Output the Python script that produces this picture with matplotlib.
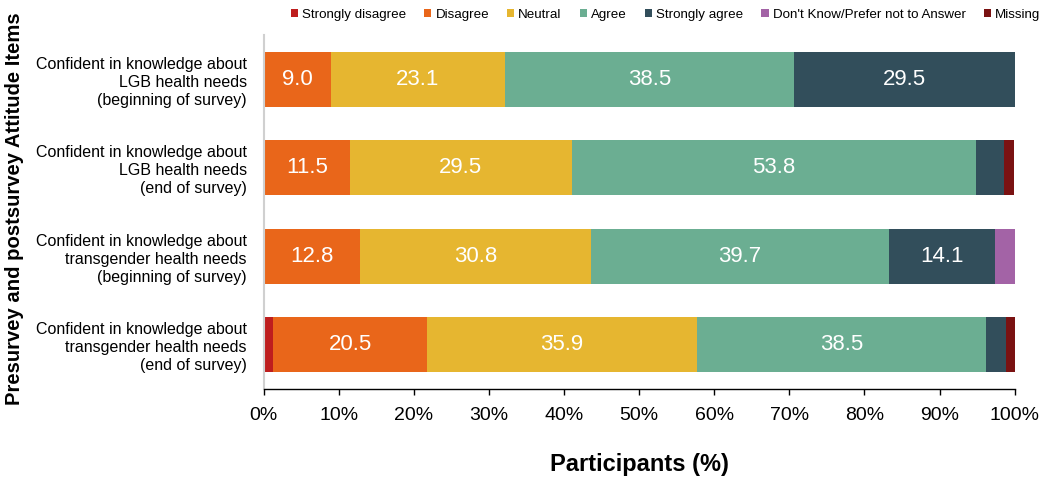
import numpy as np
import matplotlib.pyplot as plt

plt.rcParams['font.family'] = ['Liberation Sans', 'DejaVu Sans']

# 설문 항목
items = ['Confident in knowledge about\nLGB health needs\n(beginning of survey)',
         'Confident in knowledge about\nLGB health needs\n(end of survey)',
         'Confident in knowledge about\ntransgender health needs\n(beginning of survey)',
         'Confident in knowledge about\ntransgender health needs\n(end of survey)']

categories = ['Strongly disagree', 'Disagree', 'Neutral', 'Agree', 'Strongly agree',
              "Don't Know/Prefer not to Answer", 'Missing']

strongly_disagree = [0.0, 0.0, 0.0, 1.3]
disagree = [9.0, 11.5, 12.8, 20.5]
neutral = [23.1, 29.5, 30.8, 35.9]
agree = [38.5, 53.8, 39.7, 38.5]
strongly_agree = [29.5, 3.8, 14.1, 2.6]
dont_know = [0.0, 0.0, 2.6, 0.0]
missing = [0.0, 1.3, 0.0, 1.3]

colors = ['#BE1E1E', '#E9661A', '#E6B630', '#6BAE92', '#324E5B', '#A363A6', '#7A1212']

series = [strongly_disagree, disagree, neutral, agree, strongly_agree, dont_know, missing]

fig, ax = plt.subplots(figsize=(10.46, 4.8), dpi=100)
fig.subplots_adjust(left=0.252, right=0.970, top=0.927, bottom=0.190)

y = np.arange(len(items))
left = np.zeros(len(items))
for name, vals, c in zip(categories, series, colors):
    vals = np.array(vals)
    ax.barh(y, vals, left=left, height=0.62, color=c, label=name)
    # 5% 이상인 구간만 값 표시
    for yi, (l, v) in enumerate(zip(left, vals)):
        if v >= 5:
            ax.text(l + v / 2, yi, f'{v:.1f}', ha='center', va='center',
                    color='white', fontsize=16)
    left += vals

ax.set_xlim(0, 100)
ax.set_ylim(3.5, -0.5)
ax.set_yticks(y)
ax.set_yticklabels(items, fontsize=11.5, linespacing=1.25)
ax.tick_params(axis='y', length=0, pad=12)
ax.set_xticks(np.arange(0, 101, 10))
ax.set_xticklabels([f'{t}%' for t in range(0, 101, 10)], fontsize=14)
ax.tick_params(axis='x', length=4, width=1, color='black', pad=9)

for s in ['top', 'right']:
    ax.spines[s].set_visible(False)
ax.spines['left'].set_color('#D0D0D0')
ax.spines['left'].set_linewidth(1.5)
ax.spines['bottom'].set_color('black')
ax.spines['bottom'].set_linewidth(1)

ax.set_xlabel('Participants (%)', fontsize=17, fontweight='bold', labelpad=21)
fig.text(0.014, 0.565, 'Presurvey and postsurvey Attitude Items', rotation=90,
         fontsize=14.6, fontweight='bold', ha='center', va='center')

ax.legend(loc='upper center', bbox_to_anchor=(0.535, 1.09), ncol=7, frameon=False,
          fontsize=9.6, handlelength=0.55, handleheight=0.55, handletextpad=0.3,
          columnspacing=1.35, borderaxespad=0)

plt.savefig('out.png')
